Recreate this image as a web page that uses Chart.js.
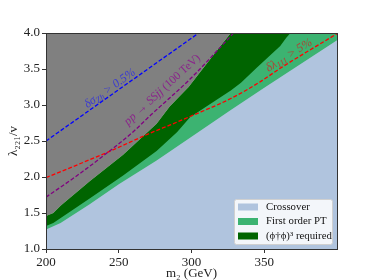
<!DOCTYPE html>
<html>
<head>
<meta charset="utf-8">
<script src="https://cdn.jsdelivr.net/npm/chart.js@4.4.0/dist/chart.umd.min.js"></script>
<style>
  html, body { margin: 0; padding: 0; background: #fff; }
</style>
</head>
<body>
<canvas id="phaseChart" width="374" height="280"></canvas>
<script>
// Region boundaries (m2 in GeV, lambda221 / v)
const crossoverM2 = [200, 210, 230, 250, 276, 300, 327, 350, 400];
const crossoverLam = [1.27, 1.36, 1.62, 1.90, 2.23, 2.56, 2.93, 3.24, 3.90];

const firstOrderM2 = [200, 205, 230, 253, 276, 290, 299, 327, 334, 345, 361, 365, 368, 400];
const firstOrderLam = [1.32, 1.36, 1.70, 2.02, 2.36, 2.62, 2.83, 3.20, 3.31, 3.52, 3.82, 3.93, 4.0, 4.0];

const sexticM2 = [200, 205, 210, 230, 253, 276, 285, 298, 318, 327, 400];
const sexticLam = [1.46, 1.50, 1.60, 1.94, 2.31, 2.74, 2.98, 3.25, 3.77, 4.0, 4.0];

// Dashed sensitivity curves
const zhM2 = [200, 305];
const zhLam = [2.5, 4.0];

const ssjjM2 = [200, 220, 243, 260, 272, 299, 329];
const ssjjLam = [1.72, 2.0, 2.35, 2.63, 2.86, 3.36, 4.0];

const tripleM2 = [200, 230, 243, 274, 285, 299, 327, 347, 361, 400];
const tripleLam = [1.99, 2.24, 2.35, 2.63, 2.72, 2.84, 3.09, 3.32, 3.51, 3.99];

const xTicks = [200, 250, 300, 350];
const yTicks = [1.0, 1.5, 2.0, 2.5, 3.0, 3.5, 4.0];

const pts = (xs, ys) => xs.map((x, i) => ({ x: x, y: ys[i] }));

const serif = "'Liberation Serif', 'DejaVu Serif', serif";

function dashed(xs, ys, color) {
  return {
    data: pts(xs, ys),
    borderColor: color,
    borderWidth: 1.3,
    borderDash: [4, 2],
    fill: false,
    cubicInterpolationMode: "monotone",
  };
}

function region(xs, ys, color, fill, label) {
  return {
    label: label,
    data: pts(xs, ys),
    borderWidth: 0,
    borderColor: "rgba(0,0,0,0)",
    backgroundColor: color,
    fill: fill,
  };
}

// labels written along the dashed lines
const lineLabels = [
  { parts: [["δσ", 0], ["Zh", 1], [" > 0.5%", 0]], at: [244, 3.23], dir: [zhM2, zhLam], color: "rgba(40,40,230,0.8)" },
  { parts: [["pp → SSjj", 0], [" (100 TeV)", 2]], at: [280, 3.21], dir: [[272, 299], [2.86, 3.36]], color: "rgba(140,20,140,0.85)" },
  { parts: [["δλ", 0], ["111", 1], [" > 5%", 0]], at: [367, 3.69], dir: [[347, 400], [3.32, 3.99]], color: "rgba(200,40,40,0.8)" },
];

const annotations = {
  id: "annotations",
  afterDatasetsDraw(chart) {
    const { ctx, chartArea: a, scales } = chart;
    const sx = scales.x, sy = scales.y;
    ctx.save();
    ctx.beginPath();
    ctx.rect(a.left, a.top, a.right - a.left, a.bottom - a.top);
    ctx.clip();
    lineLabels.forEach((l) => {
      const [dx, dy] = l.dir;
      const p0x = sx.getPixelForValue(dx[0]), p0y = sy.getPixelForValue(dy[0]);
      const p1x = sx.getPixelForValue(dx[dx.length - 1]), p1y = sy.getPixelForValue(dy[dy.length - 1]);
      const ang = Math.atan2(p1y - p0y, p1x - p0x);
      const fonts = ["italic 12px " + serif, "italic 8.5px " + serif, "11.5px " + serif];
      let w = 0;
      l.parts.forEach(([t, k]) => { ctx.font = fonts[k]; w += ctx.measureText(t).width; });
      ctx.translate(sx.getPixelForValue(l.at[0]), sy.getPixelForValue(l.at[1]));
      ctx.rotate(ang);
      ctx.fillStyle = l.color;
      ctx.textBaseline = "middle";
      ctx.textAlign = "left";
      let x = -w / 2;
      l.parts.forEach(([t, k]) => {
        ctx.font = fonts[k];
        ctx.fillText(t, x, k === 1 ? 3 : 0);
        x += ctx.measureText(t).width;
      });
      ctx.setTransform(1, 0, 0, 1, 0, 0);
    });
    ctx.restore();

    // frame
    ctx.save();
    ctx.strokeStyle = "#333";
    ctx.lineWidth = 1;
    ctx.strokeRect(Math.round(a.left) + 0.5, Math.round(a.top) + 0.5,
      Math.round(a.right - a.left), Math.round(a.bottom - a.top));
    ctx.restore();

    // legend box in lower right
    const items = chart.data.datasets.filter((d) => d.label);
    const bw = 98, bh = 45;
    const bx = a.right - 5 - bw, by = a.bottom - 5 - bh;
    ctx.save();
    ctx.fillStyle = "rgba(255,255,255,0.85)";
    ctx.strokeStyle = "#d0d0d0";
    ctx.lineWidth = 1;
    ctx.beginPath();
    ctx.roundRect(bx + 0.5, by + 0.5, bw, bh, 2);
    ctx.fill();
    ctx.stroke();
    ctx.font = "10.8px " + serif;
    ctx.textBaseline = "middle";
    items.forEach((d, i) => {
      const cy = by + 8 + i * 14.5;
      ctx.fillStyle = d.backgroundColor;
      ctx.fillRect(bx + 4, cy - 3.5, 20, 7);
      ctx.fillStyle = "#111";
      ctx.fillText(d.label, bx + 32, cy);
    });
    ctx.restore();
  },
};

const ctx = document.getElementById("phaseChart");
new Chart(ctx, {
  type: "line",
  data: {
    datasets: [
      dashed(zhM2, zhLam, "#0000ff"),
      dashed(ssjjM2, ssjjLam, "#800080"),
      dashed(tripleM2, tripleLam, "#ff0000"),
      region(crossoverM2, crossoverLam, "#b0c4de", "start", "Crossover"),
      region(firstOrderM2, firstOrderLam, "#3cb371", "start", "First order PT"),
      region(sexticM2, sexticLam, "#006400", "start", "(ϕ†ϕ)³ required"),
      region(sexticM2, sexticLam, "#808080", "end"),
    ],
  },
  options: {
    responsive: false,
    animation: false,
    events: [],
    layout: { padding: { top: 33, right: 37, left: 0, bottom: 0 } },
    elements: { point: { radius: 0 }, line: { tension: 0 } },
    plugins: { legend: { display: false }, tooltip: { enabled: false } },
    scales: {
      x: {
        type: "linear",
        min: 200,
        max: 400,
        afterBuildTicks: (s) => { s.ticks = xTicks.map((v) => ({ value: v })); },
        afterFit: (s) => { s.height = 31; },
        grid: { drawOnChartArea: false, drawTicks: true, tickLength: 4, color: "#333" },
        border: { display: true, color: "#333" },
        ticks: { color: "#222", padding: 2, maxRotation: 0, font: { family: serif, size: 13 } },
        title: { display: true, text: "m₂ (GeV)", color: "#222", padding: 0, font: { family: serif, size: 13, lineHeight: 1 } },
      },
      y: {
        type: "linear",
        min: 1,
        max: 4,
        afterBuildTicks: (s) => { s.ticks = yTicks.map((v) => ({ value: v })); },
        afterFit: (s) => { s.width = 46; },
        grid: { drawOnChartArea: false, drawTicks: true, tickLength: 4, color: "#333" },
        border: { display: true, color: "#333" },
        ticks: { color: "#222", padding: 2, font: { family: serif, size: 13 }, callback: (v) => v.toFixed(1) },
        title: { display: true, text: "λ₂₂₁/v", color: "#222", padding: { top: 7, bottom: 0 }, font: { family: serif, size: 13, lineHeight: 1 } },
      },
    },
  },
  plugins: [annotations],
});
</script>
</body>
</html>
